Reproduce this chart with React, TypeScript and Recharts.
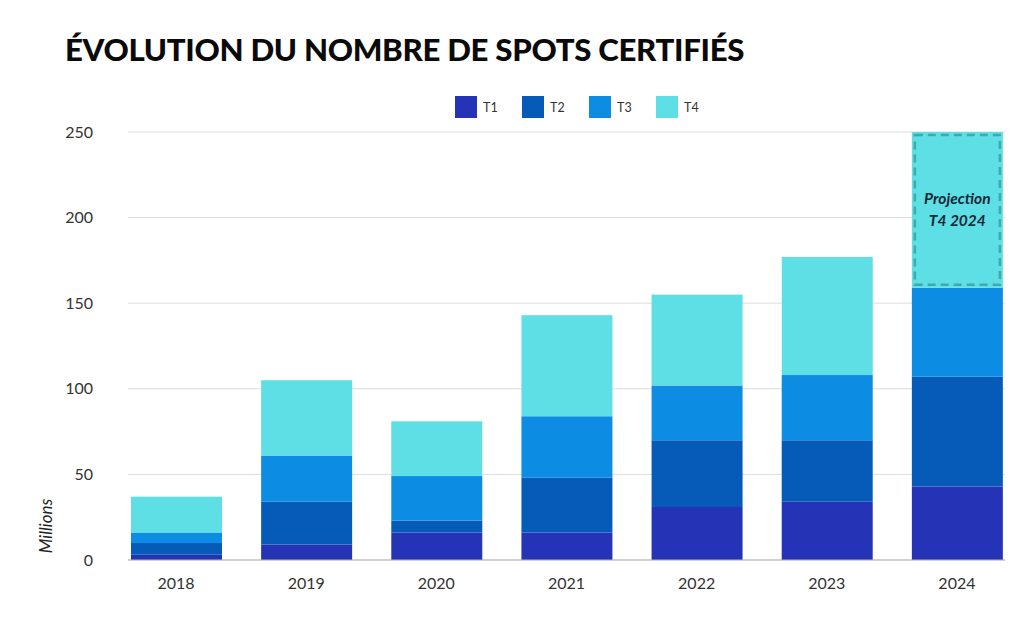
import React from "react";
import { BarChart, Bar, XAxis, YAxis, CartesianGrid } from "recharts";

const years = ["2018", "2019", "2020", "2021", "2022", "2023", "2024"];
const t1 = [3, 9, 16, 16, 31, 34, 43];
const t2 = [7, 25, 7, 32, 39, 36, 64];
const t3 = [6, 27, 26, 36, 32, 38, 52];
const t4 = [21, 44, 32, 59, 53, 69, 91];
const projected = [false, false, false, false, false, false, true];
const yTicks = [0, 50, 100, 150, 200, 250];

const seriesNames = ["T1", "T2", "T3", "T4"];
const colors = ["#2534b6", "#065bb9", "#0c8ce3", "#5ddfe5"];

const data = years.map((year, i) => ({
  year,
  T1: t1[i],
  T2: t2[i],
  T3: t3[i],
  T4: t4[i],
  projected: projected[i],
}));

const FONT = "Lato, 'Open Sans', sans-serif";

// T4 bar: the projected year gets a dashed frame and a caption
function T4Shape(props: any) {
  const { x, y, width, height, fill, payload } = props;
  if (!payload || !payload.projected) {
    return <rect x={x} y={y} width={width} height={height} fill={fill} />;
  }
  const inset = 3;
  const cx = x + width / 2;
  const cy = y + height / 2;
  return (
    <g>
      <rect x={x} y={y} width={width} height={height} fill={fill} />
      <rect
        x={x + inset}
        y={y + inset}
        width={width - inset * 2}
        height={height - inset * 2}
        fill="none"
        stroke="#3fa9ab"
        strokeWidth={2.5}
        strokeDasharray="8 5"
      />
      <text
        x={cx}
        y={cy - 6}
        textAnchor="middle"
        fontFamily={FONT}
        fontStyle="italic"
        fontWeight={700}
        fontSize={15.5}
        fill="#16283a"
      >
        Projection
      </text>
      <text
        x={cx}
        y={cy + 16}
        textAnchor="middle"
        fontFamily={FONT}
        fontStyle="italic"
        fontWeight={700}
        fontSize={15.5}
        fill="#16283a"
      >
        T4 2024
      </text>
    </g>
  );
}

export default function App() {
  return (
    <div
      style={{
        position: "absolute",
        left: 0,
        top: 0,
        width: 1024,
        height: 626,
        background: "#fff",
        overflow: "hidden",
      }}
    >
      {/* Title */}
      <div
        style={{
          position: "absolute",
          left: 65,
          top: 30,
          fontFamily: FONT,
          fontWeight: 900,
          fontSize: 31.2,
          color: "#0a0a0a",
          letterSpacing: "-0.3px",
          whiteSpace: "nowrap",
        }}
      >
        ÉVOLUTION DU NOMBRE DE SPOTS CERTIFIÉS
      </div>

      {/* Legend */}
      <div
        style={{
          position: "absolute",
          left: 455,
          top: 96,
          display: "flex",
          gap: 22,
        }}
      >
        {seriesNames.map((name, i) => (
          <div key={name} style={{ display: "flex", alignItems: "center" }}>
            <div style={{ width: 22, height: 22, background: colors[i], marginRight: 6 }} />
            <span style={{ fontFamily: FONT, fontSize: 12.5, color: "#333", width: 17 }}>{name}</span>
          </div>
        ))}
      </div>

      {/* Y unit */}
      <div
        style={{
          position: "absolute",
          left: 45,
          top: 526,
          transform: "translate(-50%, -50%) rotate(-90deg)",
          fontFamily: FONT,
          fontStyle: "italic",
          fontSize: 17,
          color: "#222",
        }}
      >
        Millions
      </div>

      <div style={{ position: "absolute", left: 0, top: 0 }}>
        <BarChart
          width={1024}
          height={626}
          data={data}
          margin={{ top: 132, right: 19, bottom: 36, left: 0 }}
          barSize={91}
        >
          <CartesianGrid vertical={false} stroke="#dcdcdc" />
          <XAxis
            dataKey="year"
            height={30}
            padding={{ left: -17, right: -17 }}
            axisLine={{ stroke: "#b5b5b5" }}
            tickLine={false}
            tickMargin={12}
            tick={{ fill: "#333", fontSize: 16, fontFamily: FONT }}
          />
          <YAxis
            width={128}
            domain={[0, 250]}
            ticks={yTicks}
            axisLine={false}
            tickLine={false}
            tickMargin={29}
            tick={{ fill: "#333", fontSize: 16, fontFamily: FONT }}
          />
          <Bar dataKey="T1" stackId="a" fill={colors[0]} isAnimationActive={false} />
          <Bar dataKey="T2" stackId="a" fill={colors[1]} isAnimationActive={false} />
          <Bar dataKey="T3" stackId="a" fill={colors[2]} isAnimationActive={false} />
          <Bar dataKey="T4" stackId="a" fill={colors[3]} shape={T4Shape} isAnimationActive={false} />
        </BarChart>
      </div>
    </div>
  );
}
